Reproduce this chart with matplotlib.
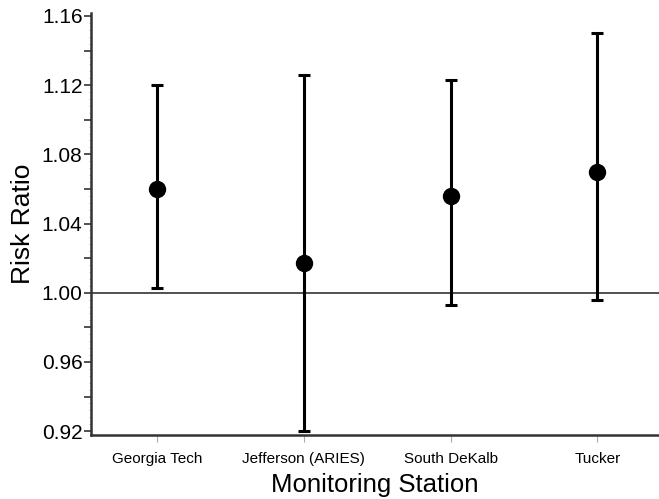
import numpy as np
import matplotlib.pyplot as plt
from matplotlib.ticker import MultipleLocator, FuncFormatter

stations = ['Georgia Tech', 'Jefferson (ARIES)', 'South DeKalb', 'Tucker']
rr = [1.060, 1.017, 1.056, 1.070]
lower = [1.003, 0.920, 0.993, 0.996]
upper = [1.120, 1.126, 1.123, 1.150]

plt.rcParams['font.family'] = ['Liberation Sans', 'DejaVu Sans']

fig = plt.figure(figsize=(6.59, 4.99), dpi=100)
ax = fig.add_axes([0.138, 0.128, 0.862, 0.846])

x = np.arange(len(stations))
rr = np.array(rr)
yerr = [rr - np.array(lower), np.array(upper) - rr]

ax.axhline(1.0, color='#222222', lw=1.1, zorder=1)
ax.errorbar(x, rr, yerr=yerr, fmt='o', color='black', ms=11.5,
            elinewidth=2.2, capsize=4, capthick=2.2, zorder=3)

ax.set_xlim(-0.45, 3.42)
ax.set_ylim(0.9177, 1.1617)
ax.set_xticks(x)
ax.set_xticklabels(stations, fontsize=11)

ax.yaxis.set_major_locator(MultipleLocator(0.02))
ax.yaxis.set_major_formatter(FuncFormatter(
    lambda v, p: '%.2f' % v if round(v / 0.02) % 2 == 0 else ''))
ax.yaxis.set_minor_locator(MultipleLocator(0.004))
ax.tick_params(axis='y', which='major', labelsize=15, length=5, width=1.2,
               color='#333333', pad=1)
ax.tick_params(axis='y', which='minor', length=1.5, width=0.5, color='#aaaaaa')
ax.tick_params(axis='x', which='major', length=5, width=0.8, color='#aaaaaa', pad=7)

for s in ['top', 'right']:
    ax.spines[s].set_visible(False)
for s in ['left', 'bottom']:
    ax.spines[s].set_linewidth(1.8)
    ax.spines[s].set_color('#333333')

ax.set_ylabel('Risk Ratio', fontsize=19, labelpad=5)
ax.set_xlabel('Monitoring Station', fontsize=18.5, labelpad=5.5)

fig.savefig('out.png', dpi=100)
